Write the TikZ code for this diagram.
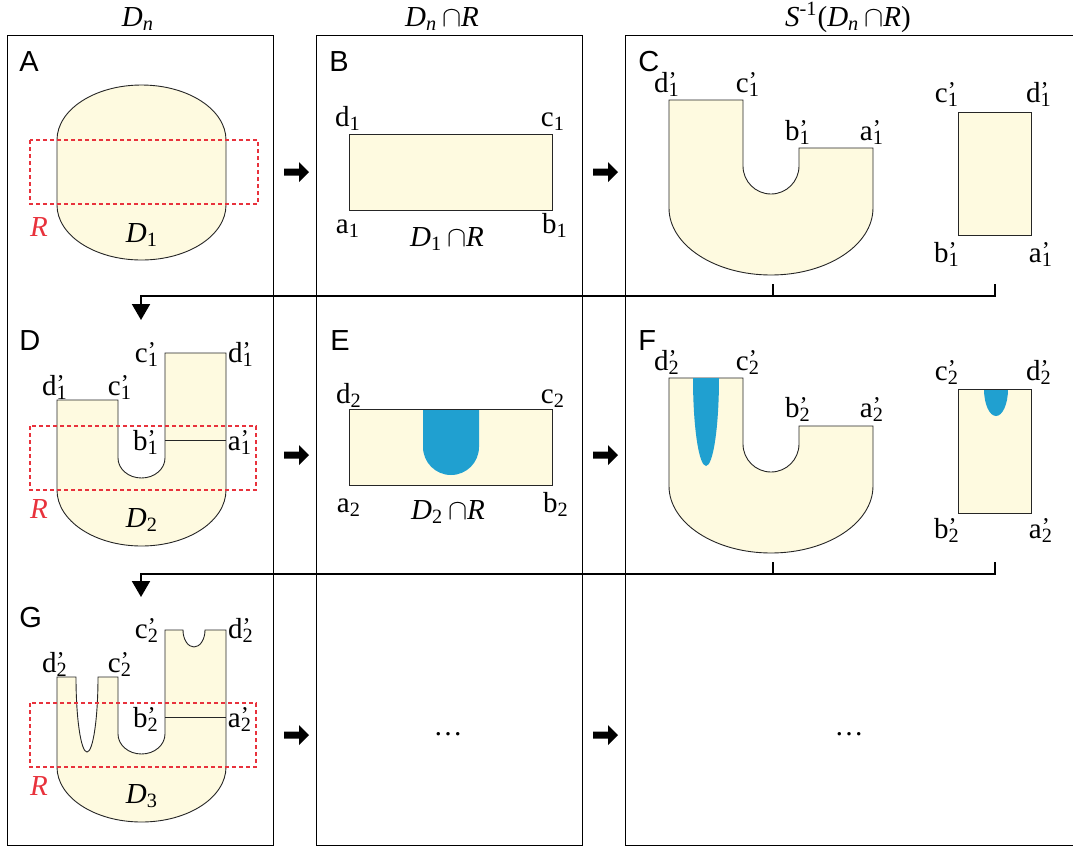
\documentclass[tikz,border=0pt]{standalone}
\usepackage{fontspec}
\setmainfont{Liberation Serif}
\setsansfont{Liberation Sans}
\usepackage{xcolor}
\usetikzlibrary{arrows.meta}
\definecolor{cream}{HTML}{FEFAE0}
\definecolor{dropblue}{HTML}{20A0D0}
\definecolor{rred}{HTML}{E8323C}
\newcommand\pl[2]{#1\rlap{\raisebox{1.6pt}{\fontsize{12}{12}\selectfont ’}}\textsubscript{#2}}
\newcommand\setn[1]{\textit{D}\textsubscript{#1}\,$\cap$\textit{R}}
\tikzset{
  colbox/.style={draw=black, line width=0.5pt},
  blob/.style={fill=cream, draw=black!85, line width=0.45pt},
  drop/.style={fill=dropblue},
  rbox/.style={draw=rred, line width=1pt, dash pattern=on 2pt off 1.5pt},
  lbl/.style={font=\fontsize{14.5}{17}\selectfont, inner sep=0pt, anchor=base},
  pnl/.style={font=\fontsize{14.5}{17}\selectfont\sffamily, inner sep=0pt, anchor=base west},
  conn/.style={line width=1pt, line join=miter},
  arr/.style={-{Triangle[length=8pt,width=9pt]}},
}

\begin{document}
\begin{tikzpicture}[x=0.5pt,y=-0.5pt]
  \useasboundingbox (0,0) rectangle (1073,848);
  \clip (0,0) rectangle (1073,848);

  % column frames
  \draw[colbox] (7.5,35.5) rectangle (273,845);
  \draw[colbox] (316.5,35.5) rectangle (582.5,845);
  \draw[colbox] (625.5,35.5) rectangle (1090,845);
  \node[lbl] (tA) at (138,26) {\textit{D}\textsubscript{\textit{n}}};
  \node[lbl] (tB) at (442,26) {\textit{D}\textsubscript{\textit{n}}\,$\cap$\textit{R}};
  \node[lbl] (tC) at (848,26) {\textit{S}\textsuperscript{-1}(\textit{D}\textsubscript{\textit{n}}\,$\cap$\textit{R})};

  % panel letters
  \node[pnl] (pA) at (19,71) {A};
  \node[pnl] (pB) at (329,71) {B};
  \node[pnl] (pC) at (638,71) {C};
  \node[pnl] (pD) at (19,350) {D};
  \node[pnl] (pE) at (330,350) {E};
  \node[pnl] (pF) at (638,350) {F};
  \node[pnl] (pG) at (19,627) {G};

  % block arrows
  \foreach \ax in {284,593}
    \foreach \ay in {172,455,735}
      \fill (\ax,\ay) ++(0,-3.5) -- ++(15,0) -- ++(0,-6.5) -- ++(10,10)
        -- ++(-10,10) -- ++(0,-6.5) -- ++(-15,0) -- cycle;

  % A: D1
  \draw[blob] (57,140) arc[start angle=180, end angle=360, x radius=84.5, y radius=55]
    -- (226,205) arc[start angle=0, end angle=180, x radius=84.5, y radius=55] -- cycle;
  \draw[rbox] (30,140) rectangle (258,204);
  \node[lbl, text=rred] (rA) at (39,236) {\textit{R}};
  \node[lbl] (dA) at (142,242) {\textit{D}\textsubscript{1}};

  % B: D1 cap R
  \draw[blob] (349,134) rectangle (552,210);
  \node[lbl] (d1) at (348,126) {d\textsubscript{1}};
  \node[lbl] (c1) at (553,126) {c\textsubscript{1}};
  \node[lbl] (a1) at (348,233) {a\textsubscript{1}};
  \node[lbl] (b1) at (555,233) {b\textsubscript{1}};
  \node[lbl] (sB) at (447,246) {\setn{1}};

  % C: preimage, U part and strip
  \draw[blob] (669,100) -- (743,100) -- (743,166)
    arc[start angle=180, end angle=0, radius=28] -- (799,148) -- (873,148) -- (873,208)
    arc[start angle=0, end angle=180, x radius=102, y radius=67] -- cycle;
  \draw[blob] (958,112) rectangle (1031,235);
  \node[lbl] (cd1) at (667,92) {\pl{d}{1}};
  \node[lbl] (cc1) at (748,92) {\pl{c}{1}};
  \node[lbl] (cb1) at (798,140) {\pl{b}{1}};
  \node[lbl] (ca1) at (872,140) {\pl{a}{1}};
  \node[lbl] (sc1) at (947,102) {\pl{c}{1}};
  \node[lbl] (sd1) at (1039,102) {\pl{d}{1}};
  \node[lbl] (sb1) at (947,262) {\pl{b}{1}};
  \node[lbl] (sa1) at (1041,262) {\pl{a}{1}};

  % back to column A
  \coordinate (k1) at (773,284);
  \coordinate (e1) at (995,284);
  \coordinate (h1) at (141,296);
  \coordinate (t1) at (141,320);
  \draw[conn] (k1) -- (k1 |- h1);
  \draw[conn, arr] (e1) |- (h1) -- (t1);

  % D: D2
  \draw[blob] (57,400) -- (118,400) -- (118,458)
    arc[start angle=180, end angle=0, x radius=23.5, y radius=20] -- (165,353) -- (226,353)
    -- (226,490) arc[start angle=0, end angle=180, x radius=84.5, y radius=56] -- cycle;
  \draw[black!85, line width=0.45pt] (165,440) -- (226,440);
  \draw[rbox] (30,426) rectangle (256,490);
  \node[lbl, text=rred] (rD) at (39,518) {\textit{R}};
  \node[lbl] (dD) at (142,527) {\textit{D}\textsubscript{2}};
  \node[lbl] (dd1) at (55,395) {\pl{d}{1}};
  \node[lbl] (dc1) at (120,395) {\pl{c}{1}};
  \node[lbl] (uc1) at (147,362) {\pl{c}{1}};
  \node[lbl] (ud1) at (241,362) {\pl{d}{1}};
  \node[lbl] (db1) at (146,450) {\pl{b}{1}};
  \node[lbl] (da1) at (240,450) {\pl{a}{1}};

  % E: D2 cap R
  \fill[cream] (349,409) rectangle (552,485);
  \fill[drop] (423,409) -- (423,447) arc[start angle=180, end angle=0, radius=28] -- (479,409) -- cycle;
  \draw[black!85, line width=0.45pt] (349,409) rectangle (552,485);
  \node[lbl] (d2) at (349,403) {d\textsubscript{2}};
  \node[lbl] (c2) at (553,403) {c\textsubscript{2}};
  \node[lbl] (a2) at (349,512) {a\textsubscript{2}};
  \node[lbl] (b2) at (556,512) {b\textsubscript{2}};
  \node[lbl] (sE) at (448,519) {\setn{2}};

  % F: preimage with drops
  \begin{scope}[shift={(0,278)}]
    \draw[blob] (669,100) -- (743,100) -- (743,166)
      arc[start angle=180, end angle=0, radius=28] -- (799,148) -- (873,148) -- (873,208)
      arc[start angle=0, end angle=180, x radius=102, y radius=67] -- cycle;
    \fill[drop] (693,100) arc[start angle=180, end angle=0, x radius=13, y radius=88] -- cycle;
  \end{scope}
  \fill[cream] (958,389) rectangle (1031,513);
  \fill[drop] (984,389) arc[start angle=180, end angle=0, x radius=12, y radius=27] -- cycle;
  \draw[black!85, line width=0.45pt] (958,389) rectangle (1031,513);
  \node[lbl] (fd2) at (667,370) {\pl{d}{2}};
  \node[lbl] (fc2) at (748,370) {\pl{c}{2}};
  \node[lbl] (fb2) at (798,417) {\pl{b}{2}};
  \node[lbl] (fa2) at (872,417) {\pl{a}{2}};
  \node[lbl] (gc2) at (947,380) {\pl{c}{2}};
  \node[lbl] (gd2) at (1039,380) {\pl{d}{2}};
  \node[lbl] (gb2) at (947,538) {\pl{b}{2}};
  \node[lbl] (ga2) at (1041,538) {\pl{a}{2}};

  % back to column A again
  \coordinate (k2) at (773,562);
  \coordinate (e2) at (995,562);
  \coordinate (h2) at (141,574);
  \coordinate (t2) at (141,597);
  \draw[conn] (k2) -- (k2 |- h2);
  \draw[conn, arr] (e2) |- (h2) -- (t2);

  % G: D3
  \draw[blob] (57,677) -- (76,677)
    arc[start angle=180, end angle=0, x radius=11, y radius=75] -- (118,677) -- (118,734)
    arc[start angle=180, end angle=0, x radius=23.5, y radius=20] -- (165,630) -- (183,630)
    arc[start angle=180, end angle=0, x radius=11, y radius=17] -- (226,630)
    -- (226,767) arc[start angle=0, end angle=180, x radius=84.5, y radius=55] -- cycle;
  \draw[black!85, line width=0.45pt] (165,717) -- (226,717);
  \draw[rbox] (30,703) rectangle (256,767);
  \node[lbl, text=rred] (rG) at (39,795) {\textit{R}};
  \node[lbl] (dG) at (142,803) {\textit{D}\textsubscript{3}};
  \node[lbl] (gd2l) at (55,672) {\pl{d}{2}};
  \node[lbl] (gc2l) at (120,672) {\pl{c}{2}};
  \node[lbl] (gc2u) at (147,638) {\pl{c}{2}};
  \node[lbl] (gd2u) at (241,638) {\pl{d}{2}};
  \node[lbl] (gb2r) at (146,727) {\pl{b}{2}};
  \node[lbl] (ga2r) at (240,727) {\pl{a}{2}};

  % later steps
  \node[lbl] (moreB) at (448,735) {\ldots};
  \node[lbl] (moreC) at (849,735) {\ldots};
\end{tikzpicture}
\end{document}
